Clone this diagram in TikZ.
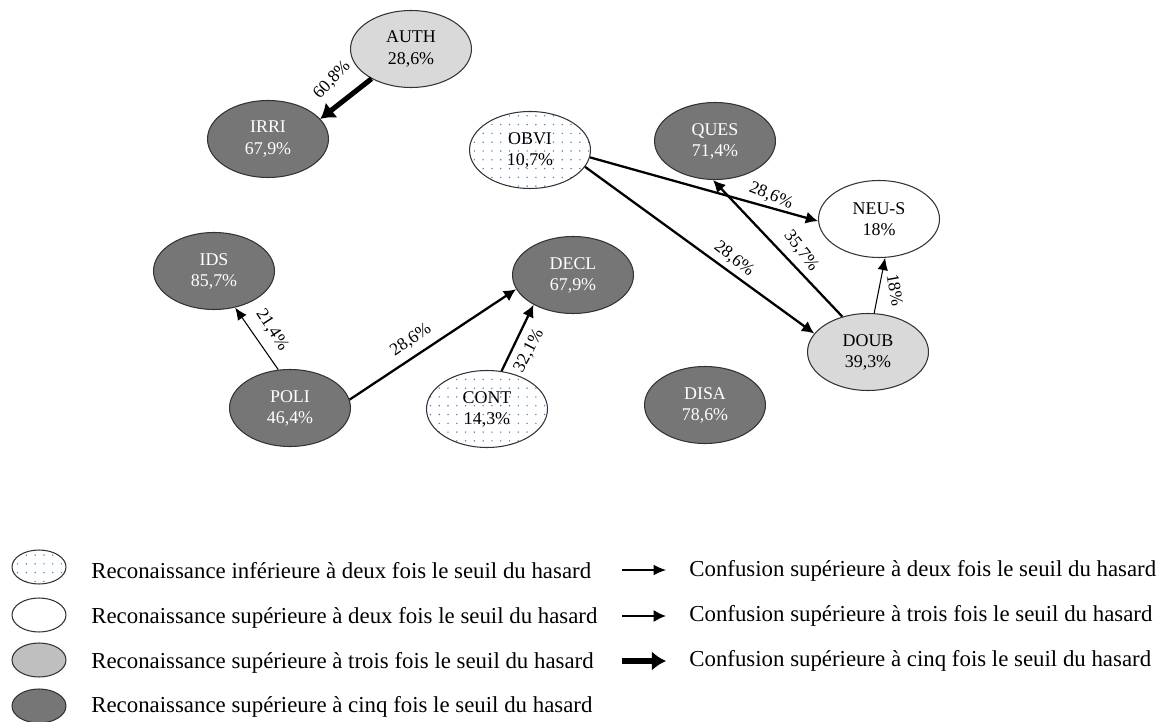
\documentclass[tikz,border=0pt]{standalone}
\usepackage{fontspec}
\setmainfont{Liberation Serif}
\usetikzlibrary{arrows.meta,shapes.geometric,patterns.meta}
\definecolor{RGDark}{HTML}{767676}
\definecolor{RGLight}{HTML}{D9D9D9}
\definecolor{RGLegLight}{HTML}{BFBFBF}
\definecolor{RGDot}{HTML}{4F78C8}
\definecolor{RGEdge}{HTML}{333333}
\begin{document}
\begin{tikzpicture}[
        x=0.02cm,y=-0.02cm,
        etat/.style={ellipse,draw=RGEdge,line width=.6pt,minimum width=2.42cm,
          minimum height=1.54cm,inner sep=0pt,align=center,
          font=\fontsize{10.2}{12}\selectfont},
        cinq/.style={etat,fill=RGDark,text=white},
        trois/.style={etat,fill=RGLight},
        deux/.style={etat,fill=white},
        infer/.style={etat,pattern={Dots[distance=5pt,radius=.45pt]},pattern color=RGDot},
        legell/.style={ellipse,draw=RGEdge,line width=.6pt,minimum width=1.08cm,
          minimum height=.68cm,inner sep=0pt},
        pct/.style={inner sep=0pt,font=\fontsize{10}{12}\selectfont},
        legtxt/.style={anchor=west,inner sep=0pt,font=\fontsize{13}{15}\selectfont},
        deuxarr/.style={line width=.6pt,-{Latex[length=7pt,width=6pt]}},
        troisarr/.style={line width=1.3pt,-{Latex[length=7pt,width=7pt]}},
        cinqarr/.style={line width=2.9pt,-{Latex[length=8pt,width=11pt]}}
      ]
        \useasboundingbox (0,0) rectangle (1168,722);
        % states
        \node[trois] (auth) at (411,49) {AUTH\\28,6\%};
        \node[cinq] (irri) at (268,139) {IRRI\\67,9\%};
        \node[infer] (obvi) at (530,150) {OBVI\\10,7\%};
        \node[cinq] (ques) at (715,141) {QUES\\71,4\%};
        \node[deux] (neus) at (879,219) {NEU-S\\18\%};
        \node[cinq] (ids) at (214,271) {IDS\\85,7\%};
        \node[cinq] (decl) at (573,275) {DECL\\67,9\%};
        \node[trois] (doub) at (868,352) {DOUB\\39,3\%};
        \node[cinq] (poli) at (290,408) {POLI\\46,4\%};
        \node[infer] (cont) at (487,409) {CONT\\14,3\%};
        \node[cinq] (disa) at (705,405) {DISA\\78,6\%};
        % confusions
        \draw[cinqarr] (auth.217) -- (irri.21);
        \draw[troisarr] (obvi.-7) -- (neus.182);
        \draw[troisarr] (obvi.-17) -- (doub.161);
        \draw[troisarr] (doub.126) -- (ques.267);
        \draw[deuxarr] (doub.81) -- (neus.279);
        \draw[deuxarr] (poli.107) -- (ids.300);
        \draw[troisarr] (poli.8) -- (decl.194);
        \draw[troisarr] (cont.69) -- (decl.217);
        \node[pct,rotate=47] (p608) at (332,80) {60,8\%};
        \node[pct,rotate=-22] (p286a) at (771,196) {28,6\%};
        \node[pct,rotate=-38] (p286b) at (734,259) {28,6\%};
        \node[pct,rotate=-52] (p357) at (801,251) {35,7\%};
        \node[pct,rotate=-80] (p18) at (895,290) {18\%};
        \node[pct,rotate=62] (p321) at (529,351) {32,1\%};
        \node[pct,rotate=-57] (p214) at (272,330) {21,4\%};
        \node[pct,rotate=35] (p286c) at (411,340) {28,6\%};
        % legend
        \node[legell,pattern={Dots[distance=5pt,radius=.45pt]},pattern color=RGDot] (le1) at (39,567) {};
        \node[legell,fill=white] (le2) at (39,615) {};
        \node[legell,fill=RGLegLight] (le3) at (39,660) {};
        \node[legell,fill=RGDark] (le4) at (39,706) {};
        \node[legtxt] (lt1) at (91,571) {Reconaissance inférieure à deux fois le seuil du hasard};
        \node[legtxt] (lt2) at (91,618) {Reconaissance supérieure à deux fois le seuil du hasard};
        \node[legtxt] (lt3) at (91,663) {Reconaissance supérieure à trois fois le seuil du hasard};
        \node[legtxt] (lt4) at (91,707) {Reconaissance supérieure à cinq fois le seuil du hasard};
        \coordinate (la1) at (622,570);
        \coordinate (lb1) at (666,570);
        \coordinate (la2) at (622,616);
        \coordinate (lb2) at (666,616);
        \coordinate (la3) at (622,661);
        \coordinate (lb3) at (666,661);
        \draw[deuxarr] (la1) -- (lb1);
        \draw[troisarr] (la2) -- (lb2);
        \draw[cinqarr] (la3) -- (lb3);
        \node[legtxt] (lc1) at (689,571) {Confusion supérieure à deux fois le seuil du hasard};
        \node[legtxt] (lc2) at (689,616) {Confusion supérieure à trois fois le seuil du hasard};
        \node[legtxt] (lc3) at (689,661) {Confusion supérieure à cinq fois le seuil du hasard};
      \end{tikzpicture}
\end{document}
